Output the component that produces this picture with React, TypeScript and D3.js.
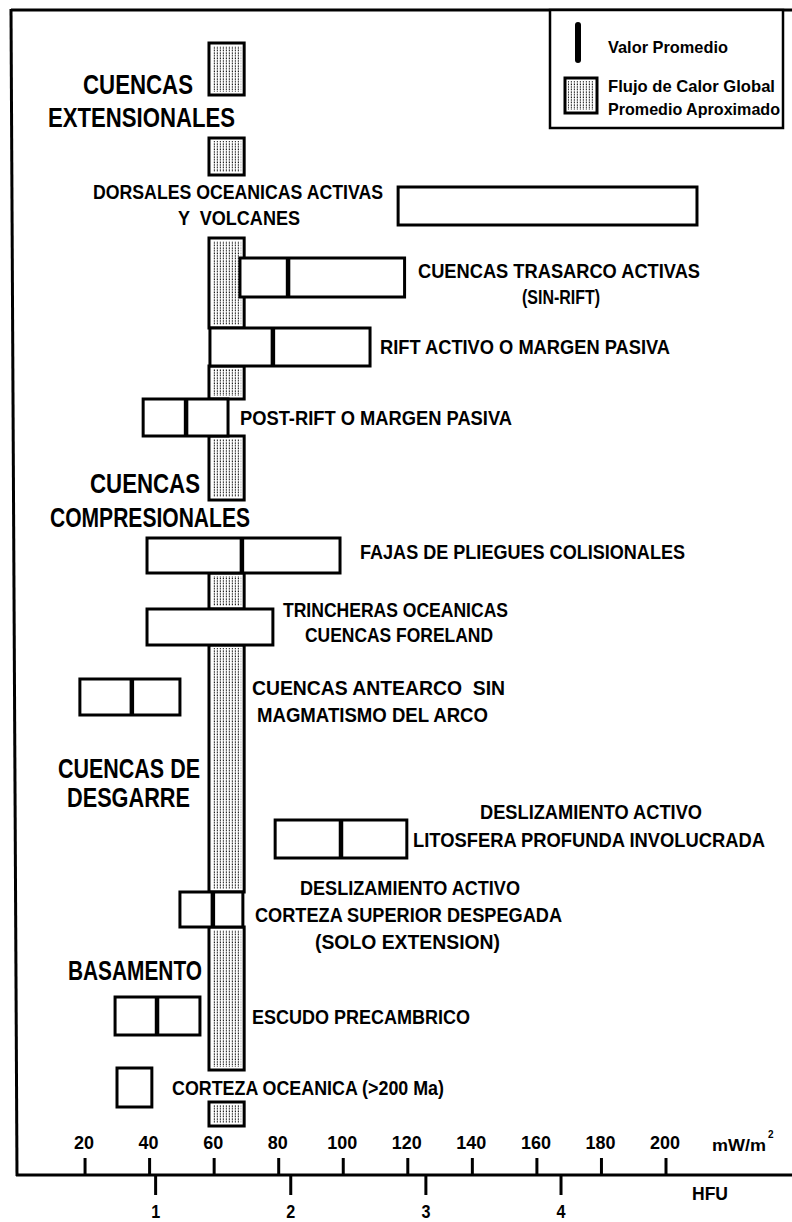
import React from "react";
import * as d3 from "d3";

// ---------- DATA ----------
const rowNames = [
  "DORSALES OCEANICAS ACTIVAS Y VOLCANES",
  "CUENCAS TRASARCO ACTIVAS (SIN-RIFT)",
  "RIFT ACTIVO O MARGEN PASIVA",
  "POST-RIFT O MARGEN PASIVA",
  "FAJAS DE PLIEGUES COLISIONALES",
  "TRINCHERAS OCEANICAS CUENCAS FORELAND",
  "CUENCAS ANTEARCO SIN MAGMATISMO DEL ARCO",
  "DESLIZAMIENTO ACTIVO LITOSFERA PROFUNDA INVOLUCRADA",
  "DESLIZAMIENTO ACTIVO CORTEZA SUPERIOR DESPEGADA (SOLO EXTENSION)",
  "ESCUDO PRECAMBRICO",
  "CORTEZA OCEANICA (>200 Ma)",
];
// heat flow range (mW/m2) and mean value
const rowMin = [117, 68, 58.7, 38, 39.2, 39.2, 18.4, 78.9, 49.4, 29.3, 29.9];
const rowMax = [209.6, 119, 108.3, 64.3, 99, 78.2, 49.4, 119.7, 68.9, 55.6, 40.7];
const rowMean: (number | null)[] = [null, 82.9, 78.2, 51.3, 68.6, null, 34.5, 99.3, 59.6, 42.3, null];

const globalMin = 58.4;
const globalMax = 69.3;

const mwTicks = [20, 40, 60, 80, 100, 120, 140, 160, 180, 200];
const hfuTicks = [1, 2, 3, 4];
const HFU_TO_MW = 41.868;

const legendMean = "Valor Promedio";
const legendGlobal = ["Flujo de Calor Global", "Promedio Aproximado"];

// ---------- LAYOUT ----------
const rowY: [number, number][] = [
  [187, 225], [258, 297], [328, 366], [399, 436], [538, 573], [609, 645],
  [679, 715], [820, 858], [892, 927], [997, 1035], [1068, 1107],
];
const columnSegments: [number, number][] = [
  [43, 95], [138, 175], [238, 328], [366, 399], [436, 500],
  [573, 609], [645, 892], [927, 1070], [1102, 1126],
];

type Lab = { t: string; x: number; y: number; w: number; s: number; k?: number };
const labels: Lab[] = [
  { t: "CUENCAS", x: 83, y: 84, w: 110, s: 27 },
  { t: "EXTENSIONALES", x: 48, y: 117, w: 187, s: 27 },
  { t: "CUENCAS", x: 90, y: 483, w: 110, s: 27 },
  { t: "COMPRESIONALES", x: 50, y: 517, w: 200, s: 27 },
  { t: "CUENCAS DE", x: 58, y: 768, w: 142, s: 27 },
  { t: "DESGARRE", x: 67, y: 797, w: 123, s: 27 },
  { t: "BASAMENTO", x: 68, y: 970, w: 134, s: 27 },
  { t: "DORSALES OCEANICAS ACTIVAS", x: 93, y: 192, w: 290, s: 20.5 },
  { t: "Y  VOLCANES", x: 178, y: 218, w: 122, s: 20.5 },
  { t: "CUENCAS TRASARCO ACTIVAS", x: 418, y: 271, w: 282, s: 20.5 },
  { t: "(SIN-RIFT)", x: 522, y: 297, w: 78, s: 20.5 },
  { t: "RIFT ACTIVO O MARGEN PASIVA", x: 380, y: 347, w: 290, s: 20.5 },
  { t: "POST-RIFT O MARGEN PASIVA", x: 240, y: 418, w: 272, s: 20.5 },
  { t: "FAJAS DE PLIEGUES COLISIONALES", x: 360, y: 552, w: 325, s: 20.5 },
  { t: "TRINCHERAS OCEANICAS", x: 283, y: 610, w: 225, s: 20.5 },
  { t: "CUENCAS FORELAND", x: 305, y: 635, w: 188, s: 20.5 },
  { t: "CUENCAS ANTEARCO  SIN", x: 252, y: 688, w: 253, s: 20.5 },
  { t: "MAGMATISMO DEL ARCO", x: 257, y: 715, w: 231, s: 20.5 },
  { t: "DESLIZAMIENTO ACTIVO", x: 480, y: 812, w: 222, s: 20.5 },
  { t: "LITOSFERA PROFUNDA INVOLUCRADA", x: 413, y: 840, w: 352, s: 20.5, k: 0.84 },
  { t: "DESLIZAMIENTO ACTIVO", x: 300, y: 888, w: 220, s: 20.5 },
  { t: "CORTEZA SUPERIOR DESPEGADA", x: 255, y: 915, w: 307, s: 20.5 },
  { t: "(SOLO EXTENSION)", x: 315, y: 942, w: 185, s: 20.5 },
  { t: "ESCUDO PRECAMBRICO", x: 252, y: 1017, w: 218, s: 20.5 },
  { t: "CORTEZA OCEANICA (>200 Ma)", x: 172, y: 1088, w: 272, s: 20.5 },
];

const W = 792;
const H = 1222;
const FONT = "'Liberation Sans', Arial, Helvetica, sans-serif";

const Label = ({ t, x, y, w, s, k }: Lab) => {
  const sx = k ?? 1;
  return (
    <g transform={`translate(${x},${y + s * 0.36}) scale(${sx},1)`}>
      <text
        x={0}
        y={0}
        fontSize={s}
        fontWeight="bold"
        textLength={w / sx}
        lengthAdjust="spacingAndGlyphs"
        style={{ whiteSpace: "pre" }}
      >
        {t}
      </text>
    </g>
  );
};

export default function App() {
  const x = d3.scaleLinear().domain([0, 200]).range([20.5, 666]);
  const xH = d3
    .scaleLinear()
    .domain([0, 5])
    .range([x(0), x(5 * HFU_TO_MW)]);
  const axisY = 1175;

  const patternBox = (x0: number, x1: number, y0: number, y1: number, key: string) => (
    <g key={key}>
      <rect x={x0} y={y0} width={x1 - x0} height={y1 - y0} fill="#fff" stroke="#000" strokeWidth={3} />
      <rect x={x0 + 3} y={y0 + 3} width={Math.max(0, x1 - x0 - 6)} height={Math.max(0, y1 - y0 - 6)} fill="url(#dots)" />
    </g>
  );

  return (
    <svg
      width={W}
      height={H}
      viewBox={`0 0 ${W} ${H}`}
      style={{ position: "absolute", left: 0, top: 0, background: "#fff", fontFamily: FONT }}
    >
      <defs>
        <pattern id="dots" width={3} height={2.6} patternUnits="userSpaceOnUse">
          <rect width={3} height={2.6} fill="#fff" />
          <rect x={0.8} y={0.4} width={1.2} height={1.5} fill="#222" />
        </pattern>
      </defs>
      <rect width={W} height={H} fill="#fff" />

      {/* frame */}
      <line x1={11} y1={10} x2={W} y2={10} stroke="#000" strokeWidth={3} />
      <line x1={11} y1={9} x2={17} y2={axisY + 1} stroke="#000" strokeWidth={3} />
      <line x1={16} y1={axisY} x2={W} y2={axisY} stroke="#000" strokeWidth={3} />

      {/* global average column */}
      {columnSegments.map(([y0, y1], i) => patternBox(x(globalMin), x(globalMax), y0, y1, "c" + i))}

      {/* range boxes */}
      {rowNames.map((n, i) => {
        const [y0, y1] = rowY[i];
        const m = rowMean[i];
        return (
          <g key={n}>
            <rect
              x={x(rowMin[i])}
              y={y0}
              width={x(rowMax[i]) - x(rowMin[i])}
              height={y1 - y0}
              fill="#fff"
              stroke="#000"
              strokeWidth={3}
            />
            {m !== null && (
              <line x1={x(m)} x2={x(m)} y1={y0} y2={y1} stroke="#000" strokeWidth={4.5} />
            )}
          </g>
        );
      })}

      {/* labels */}
      {labels.map((l, i) => (
        <Label key={i} {...l} />
      ))}

      {/* mW/m2 axis */}
      {mwTicks.map((t) => (
        <g key={"mw" + t}>
          <line x1={x(t)} x2={x(t)} y1={1158} y2={axisY} stroke="#000" strokeWidth={3} />
          <text
            x={x(t) - 1}
            y={1142 + 7}
            fontSize={19}
            fontWeight="bold"
            textAnchor="middle"
            textLength={t < 100 ? 20 : 30}
            lengthAdjust="spacingAndGlyphs"
          >
            {t}
          </text>
        </g>
      ))}
      <text x={712} y={1151} fontSize={17} fontWeight="bold" textLength={54} lengthAdjust="spacingAndGlyphs">
        mW/m
      </text>
      <text x={768} y={1138} fontSize={10} fontWeight="bold">
        2
      </text>

      {/* HFU axis */}
      {hfuTicks.map((t) => (
        <g key={"h" + t}>
          <line x1={xH(t)} x2={xH(t)} y1={axisY} y2={1195} stroke="#000" strokeWidth={3} />
          <text x={xH(t)} y={1217.5} fontSize={17.5} fontWeight="bold" textAnchor="middle" textLength={9} lengthAdjust="spacingAndGlyphs">
            {t}
          </text>
        </g>
      ))}
      <text x={692} y={1200} fontSize={19} fontWeight="bold" textLength={36} lengthAdjust="spacingAndGlyphs">
        HFU
      </text>

      {/* legend */}
      <rect x={550} y={10} width={233} height={118} fill="#fff" stroke="#000" strokeWidth={2.5} />
      <line x1={578} x2={578} y1={25} y2={60} stroke="#000" strokeWidth={6} strokeLinecap="round" />
      <text x={608} y={47 + 6} fontSize={17} fontWeight="bold" textLength={120} lengthAdjust="spacingAndGlyphs">
        {legendMean}
      </text>
      {patternBox(565, 597, 78, 113, "legend")}
      <text x={608} y={86 + 6} fontSize={17} fontWeight="bold" textLength={167} lengthAdjust="spacingAndGlyphs">
        {legendGlobal[0]}
      </text>
      <text x={608} y={109 + 6} fontSize={17} fontWeight="bold" textLength={172} lengthAdjust="spacingAndGlyphs">
        {legendGlobal[1]}
      </text>
    </svg>
  );
}
